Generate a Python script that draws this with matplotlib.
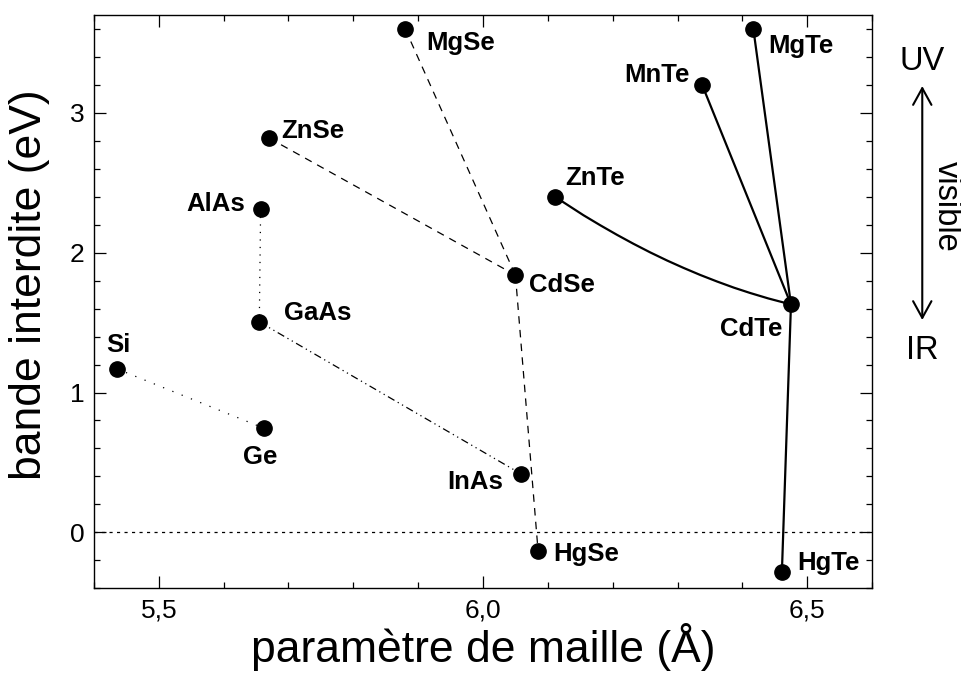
import matplotlib
matplotlib.use("Agg")
import matplotlib.pyplot as plt
from matplotlib.ticker import MultipleLocator, FuncFormatter

plt.rcParams['font.family'] = ['Liberation Sans', 'DejaVu Sans']

# compounds, lattice parameter (A), band gap (eV)
compounds = ['Si', 'Ge', 'AlAs', 'GaAs', 'InAs', 'ZnSe', 'MgSe', 'CdSe', 'HgSe',
             'ZnTe', 'MnTe', 'MgTe', 'CdTe', 'HgTe']
lattice = [5.435, 5.662, 5.657, 5.655, 6.058, 5.670, 5.880, 6.050, 6.085,
           6.111, 6.338, 6.417, 6.475, 6.461]
gap = [1.17, 0.745, 2.31, 1.505, 0.42, 2.82, 3.60, 1.84, -0.135,
       2.40, 3.20, 3.60, 1.63, -0.285]

# ZnTe-CdTe alloy curve
znte_cdte_a = [6.111, 6.133, 6.155, 6.181, 6.207, 6.232, 6.258, 6.284, 6.309,
               6.335, 6.361, 6.387, 6.412, 6.440, 6.475]
znte_cdte_eg = [2.40, 2.334, 2.268, 2.196, 2.127, 2.064, 2.002, 1.944, 1.892,
                1.841, 1.794, 1.750, 1.712, 1.673, 1.63]

xticks = [5.5, 6.0, 6.5]
yticks = [0, 1, 2, 3]

pt = dict(zip(compounds, zip(lattice, gap)))

fig = plt.figure(figsize=(9.61, 6.79), dpi=100)
ax = fig.add_axes([0.0978, 0.1336, 0.8096, 0.8443])

ax.axhline(0, color='black', lw=0.9, ls=(0, (2.5, 3.5)), zorder=1)

def link(a, b, **kw):
  ax.plot([pt[a][0], pt[b][0]], [pt[a][1], pt[b][1]], color='black', zorder=2, **kw)

# dotted
link('Si', 'Ge', lw=0.9, ls=(0, (1, 7)))
link('AlAs', 'GaAs', lw=0.9, ls=(0, (1, 5)))
# dash dot dot
link('GaAs', 'InAs', lw=0.9, ls=(0, (6, 3, 1, 3, 1, 3)))
# dashed
link('ZnSe', 'CdSe', lw=0.9, ls=(0, (6, 5)))
link('MgSe', 'CdSe', lw=0.9, ls=(0, (6, 5)))
link('CdSe', 'HgSe', lw=0.9, ls=(0, (6, 5)))
# solid
link('MnTe', 'CdTe', lw=1.6)
link('MgTe', 'CdTe', lw=1.6)
link('CdTe', 'HgTe', lw=1.6)
ax.plot(znte_cdte_a, znte_cdte_eg, color='black', lw=1.6, zorder=2,
        solid_joinstyle='round')

ax.plot(lattice, gap, 'o', color='black', ms=11, zorder=3)

# label offsets in pixels (dx, dy up), alignment
offsets = {
  'Si': (1.6, 24, 'center'),
  'Ge': (-4, -29, 'center'),
  'AlAs': (-16, 5, 'right'),
  'GaAs': (25, 9, 'left'),
  'InAs': (-17, -8, 'right'),
  'ZnSe': (12, 7, 'left'),
  'MgSe': (21, -14, 'left'),
  'CdSe': (14, -10, 'left'),
  'HgSe': (15, -3, 'left'),
  'ZnTe': (10, 19, 'left'),
  'MnTe': (-13, 10, 'right'),
  'MgTe': (15, -17, 'left'),
  'CdTe': (-9, -25, 'right'),
  'HgTe': (15, 9, 'left'),
}
for name in compounds:
  dx, dy, ha = offsets[name]
  ax.annotate(name, pt[name], xytext=(dx * 0.72, dy * 0.72), textcoords='offset points',
              ha=ha, va='center', fontsize=18.5, fontweight='bold')

ax.set_xlim(5.4, 6.6)
ax.set_ylim(-0.4, 3.7)
ax.set_xticks(xticks)
ax.set_yticks(yticks)
ax.xaxis.set_minor_locator(MultipleLocator(0.1))
ax.yaxis.set_minor_locator(MultipleLocator(0.2))
ax.xaxis.set_major_formatter(FuncFormatter(lambda v, p: ("%.1f" % v).replace('.', ',')))
ax.tick_params(which='both', direction='in', top=True, right=True, width=0.9)
ax.tick_params(which='major', length=8.4, labelsize=19, pad=7)
ax.tick_params(which='minor', length=4.5)
for s in ax.spines.values():
  s.set_linewidth(1.0)

ax.set_xlabel("paramètre de maille (Å)", fontsize=32)
ax.set_ylabel("bande interdite (eV)", fontsize=32)
ax.xaxis.set_label_coords(0.5, -0.06)
ax.yaxis.set_label_coords(-0.057, 0.53)

# UV / visible / IR scale on the right
fig.text(0.9594, 0.9087, "UV", fontsize=23.5, ha='center', va='center')
fig.text(0.9594, 0.4845, "IR", fontsize=23.5, ha='center', va='center')
fig.text(0.9851, 0.6956, "visible", fontsize=23.5, ha='center', va='center', rotation=270)
ax.annotate('', xy=(0.9597, 0.8733), xytext=(0.9597, 0.5287), xycoords='figure fraction',
            textcoords='figure fraction',
            arrowprops=dict(arrowstyle='<->,head_length=0.6,head_width=0.33',
                            lw=1.5, color='black', mutation_scale=20,
                            shrinkA=0, shrinkB=0))

plt.savefig("out.png", dpi=100)
